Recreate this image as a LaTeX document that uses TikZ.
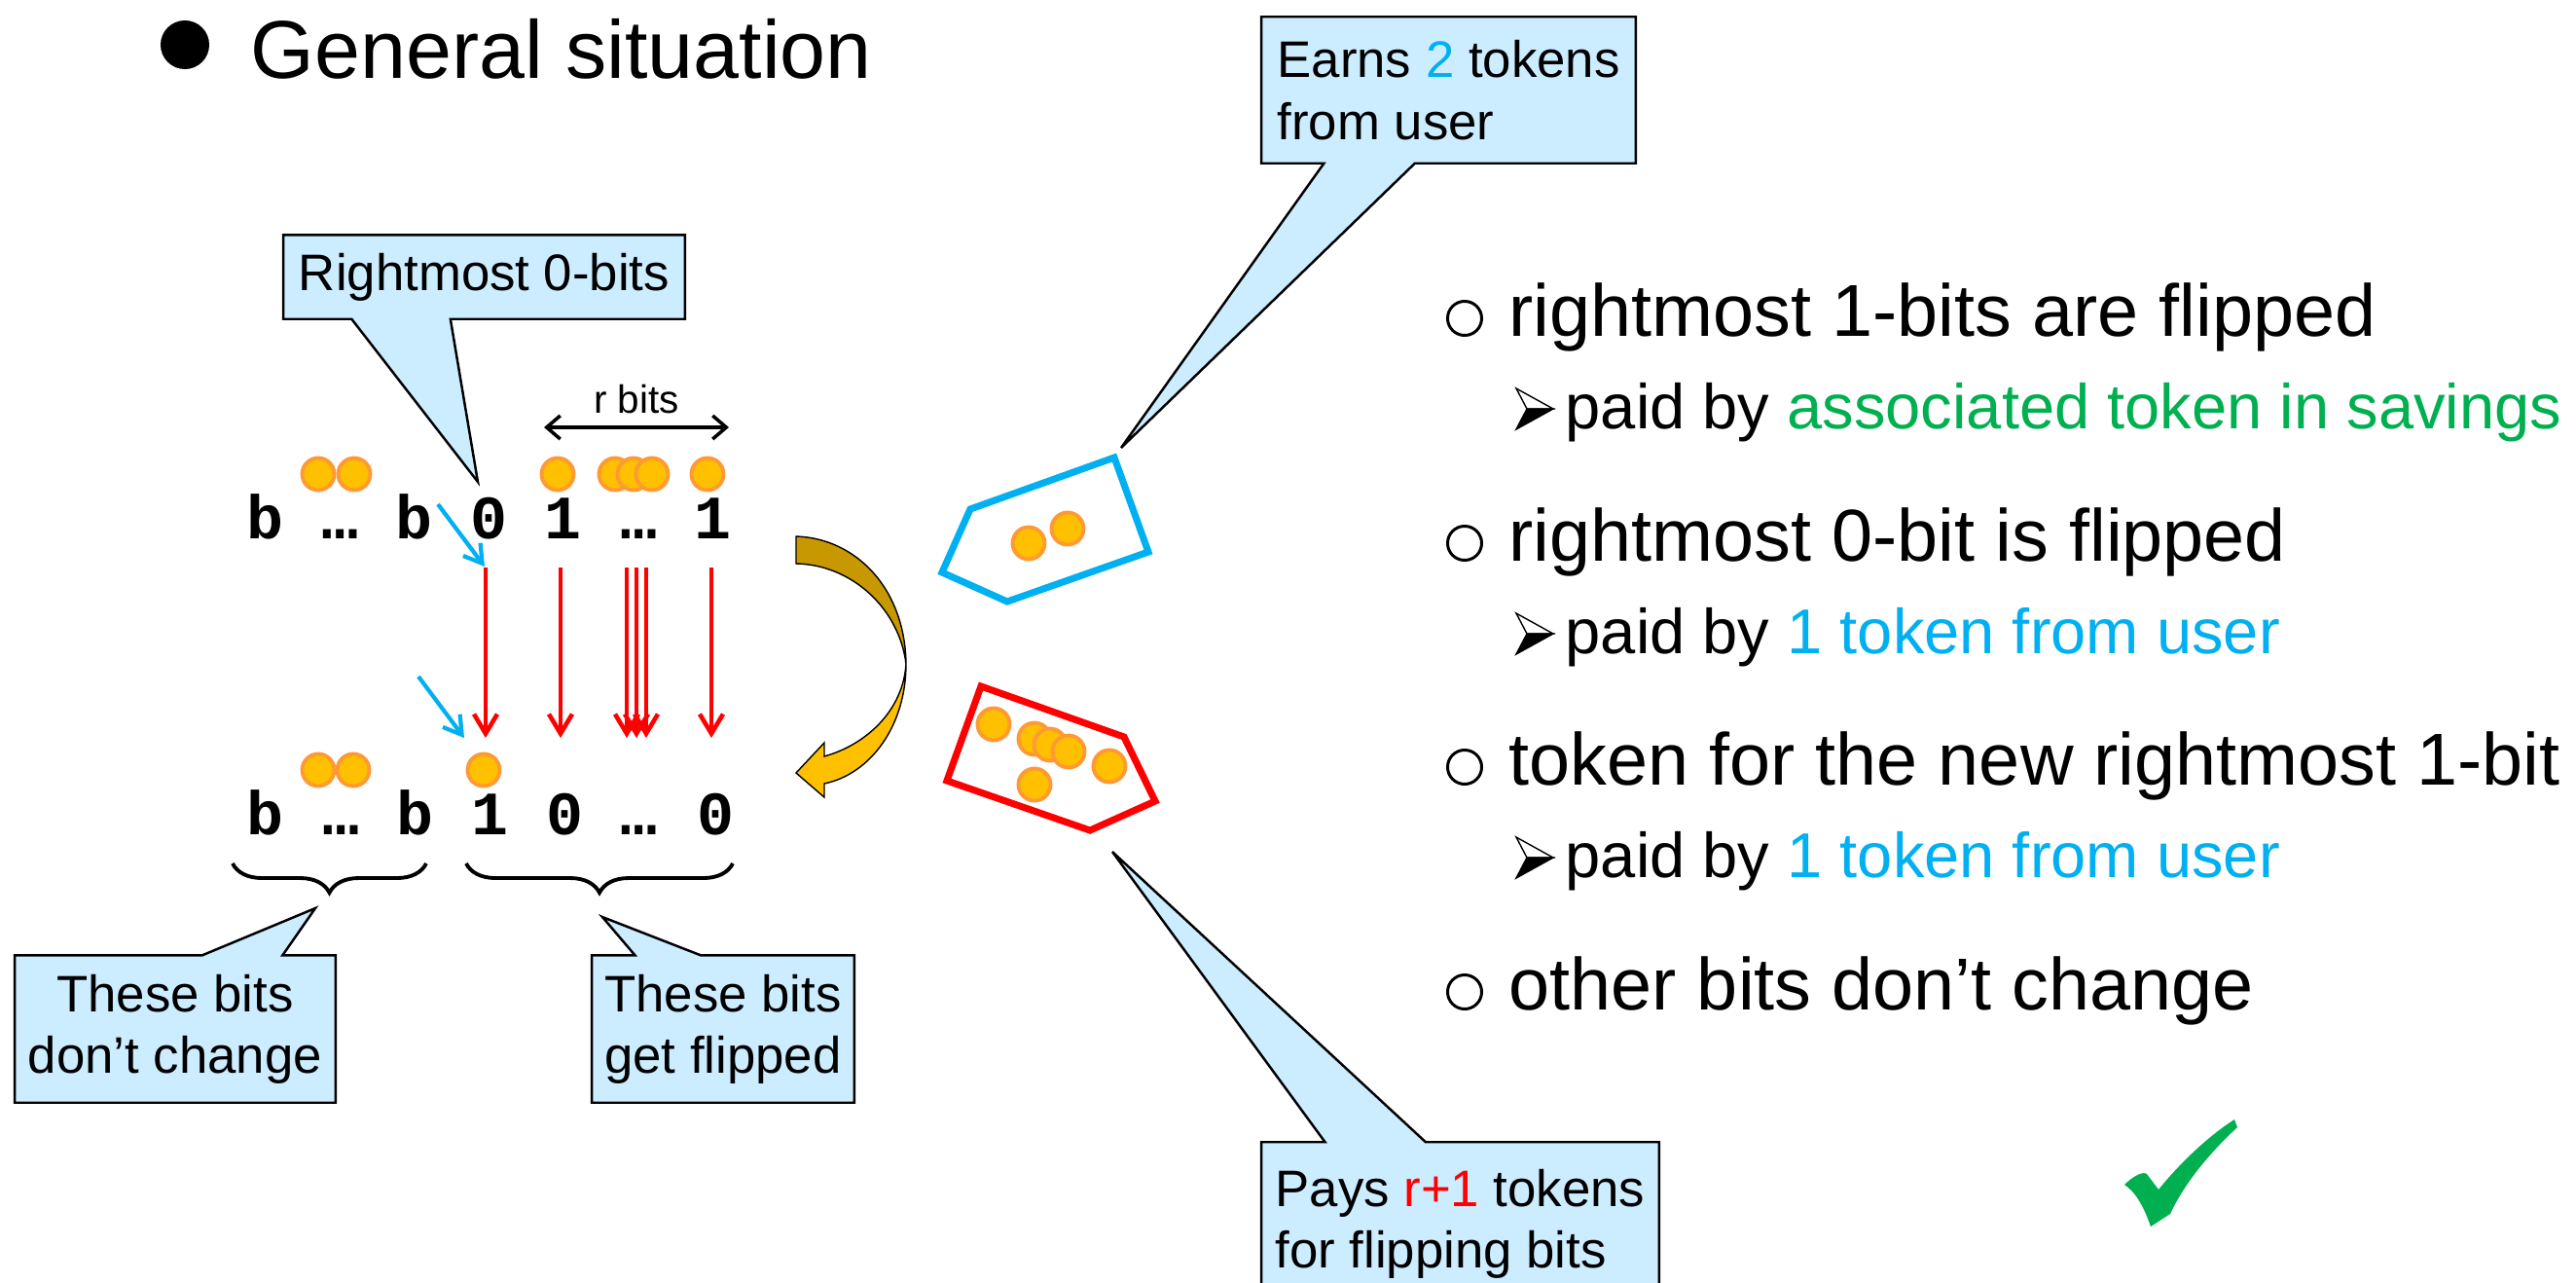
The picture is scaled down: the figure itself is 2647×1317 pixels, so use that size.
\documentclass[tikz,border=0pt]{standalone}
\usepackage{fontspec}
\setmainfont{Liberation Sans}
\newfontfamily\bitfont{Liberation Mono}
\usetikzlibrary{positioning,calc,arrows.meta,decorations.pathreplacing}
\pgfdeclarelayer{background}
\pgfsetlayers{background,main}

\definecolor{callfill}{HTML}{CCECFF}
\definecolor{userblue}{HTML}{00B0F0}
\definecolor{saveGreen}{HTML}{00B050}
\definecolor{coinfill}{HTML}{FFC000}
\definecolor{coinedge}{HTML}{FF9933}
\definecolor{golddark}{HTML}{C89800}

\tikzset{bit/.style={font=\bitfont\bfseries\fontsize{18}{20}\selectfont, anchor=base, inner sep=0}}
\tikzset{coin/.style={circle, fill=coinfill, draw=coinedge, line width=1.1pt, minimum size=0.33cm, inner sep=0}}
\tikzset{calltext/.style={inner sep=0, align=left, font=\fontsize{15}{18}\selectfont}}
\tikzset{callout/.style={draw, line width=0.7pt, fill=callfill, line join=miter}}
\tikzset{flip/.style={draw=red, line width=1.3pt, -{Straight Barb[length=2mm, width=2.4mm]}}}
\tikzset{hint/.style={draw=userblue, line width=1.2pt, -{Straight Barb[length=1.8mm, width=2.2mm]}}}
\tikzset{span/.style={line width=1pt, {Straight Barb[length=1.4mm, width=2.4mm]}-{Straight Barb[length=1.4mm, width=2.4mm]}}}
\tikzset{grp/.style={line width=1.1pt, decorate, decoration={brace, mirror, amplitude=0.3cm}}}
\tikzset{purse/.style={line width=2pt, line join=miter}}
\tikzset{mainpt/.style={anchor=base west, inner sep=0, font=\fontsize{21.5}{26}\selectfont}}
\tikzset{subpt/.style={anchor=base west, inner sep=0, font=\fontsize{18.5}{22}\selectfont}}
\tikzset{ring/.style={circle, draw, line width=0.85pt, minimum size=0.35cm, inner sep=0}}
\tikzset{subarr/.pic={
    \filldraw[fill=white, line width=0.4pt] (-19,-21) -- (19,0) -- (-8,0) -- cycle;
    \filldraw[line width=0.4pt] (-8,0) -- (19,0) -- (-19,21) -- cycle;
}}

\begin{document}
\begin{tikzpicture}[x=0.01cm, y=-0.01cm]
    \useasboundingbox (0,0) rectangle (2647,1317);

    % title
    \node[circle, fill, minimum size=0.5cm, inner sep=0] (tdot) at (190,46) {};
    \node[anchor=base west, inner sep=0, font=\fontsize{24}{28}\selectfont] (title) at (257,80) {General situation};

    % counter before and after
    \foreach \s/\x [count=\i] in {b/272,…/349,b/425,0/502,1/578,…/656,1/732}
        \node[bit] (t\i) at (\x,553) {\s};
    \foreach \s/\x [count=\i] in {b/272,…/350,b/426,1/503,0/580,…/656,0/735}
        \node[bit] (u\i) at (\x,857) {\s};

    \foreach \x [count=\i] in {327,364,573,632,651,670,727}
        \node[coin] (ct\i) at (\x,487) {};
    \foreach \x [count=\i] in {327,363,497}
        \node[coin] (cb\i) at (\x,791) {};

    \coordinate (rl) at (559,439);
    \coordinate (rr) at (749,439);
    \draw[span] (rl) -- node[above, inner sep=0.12cm, font=\fontsize{11.5}{13}\selectfont] (rlab) {r bits} (rr);

    \foreach \x [count=\i] in {499,576,644,654,664,731} {
        \coordinate (fa\i) at (\x,583);
        \coordinate (fb\i) at (\x,758);
        \draw[flip] (fa\i) -- (fb\i);
    }
    \coordinate (h1a) at (450,518);
    \coordinate (h1b) at (498,582);
    \coordinate (h2a) at (430,695);
    \coordinate (h2b) at (477,758);
    \draw[hint] (h1a) -- (h1b);
    \draw[hint] (h2a) -- (h2b);

    \coordinate (gl1) at (239,887);
    \coordinate (gr1) at (438,887);
    \coordinate (gl2) at (479,887);
    \coordinate (gr2) at (753,887);
    \draw[grp] (gl1) -- (gr1);
    \draw[grp] (gl2) -- (gr2);

    % curved arrow
    \filldraw[fill=golddark, line width=0.4pt] (818,551) .. controls (880,553) and (930,605) .. (931,682)
        .. controls (924,625) and (875,580) .. (818,579) -- cycle;
    \filldraw[fill=coinfill, line width=0.4pt] (931,682) .. controls (931,745) and (895,795) .. (847,805)
        -- (847,819) -- (818,794) -- (847,763) -- (847,777)
        .. controls (890,765) and (928,730) .. (931,682) -- cycle;

    % savings
    \draw[purse, draw=userblue] (1145,470) -- (1180,567) -- (1035,618) -- (968,588) -- (997,523) -- cycle;
    \foreach \p [count=\i] in {(1057,558),(1097,543)}
        \node[coin] (cu\i) at \p {};
    \draw[purse, draw=red] (1008,705) -- (1155,757) -- (1187,823) -- (1120,853) -- (973,802) -- cycle;
    \foreach \p [count=\i] in {(1021,744),(1063,759),(1079,765),(1098,772),(1140,787),(1063,806)}
        \node[coin] (cr\i) at \p {};

    % callouts
    \node[calltext, minimum width=4.11cm, minimum height=0.85cm] (rzb) at (497.5,284.5) {Rightmost 0-bits};
    \coordinate (rztip) at (491,495);
    \node[calltext, align=center, minimum width=3.28cm, minimum height=1.5cm] (keepb) at (180,1057) {These bits\\don’t change};
    \coordinate (keeptip) at (324,933);
    \node[calltext, align=center, minimum width=2.68cm, minimum height=1.5cm] (flipb) at (743,1057) {These bits\\get flipped};
    \coordinate (fliptip) at (619,942);
    \node[calltext, minimum width=3.83cm, minimum height=1.49cm] (earnb) at (1488.5,92.5) {Earns \textcolor{userblue}{2} tokens\\from user};
    \coordinate (earntip) at (1152,460);
    \node[calltext, minimum width=4.07cm, minimum height=1.66cm] (payb) at (1500.5,1257) {Pays \textcolor{red}{r+1} tokens\\for flipping bits};
    \coordinate (paytip) at (1143,875);

    \begin{pgfonlayer}{background}
        \draw[callout] (rzb.north west) -- (rzb.north east) -- (rzb.south east)
            -- ($(rzb.south west)!0.416!(rzb.south east)$) -- (rztip)
            -- ($(rzb.south west)!0.17!(rzb.south east)$) -- (rzb.south west) -- cycle;
        \draw[callout] (keepb.north west) -- ($(keepb.north west)!0.585!(keepb.north east)$) -- (keeptip)
            -- ($(keepb.north west)!0.835!(keepb.north east)$) -- (keepb.north east)
            -- (keepb.south east) -- (keepb.south west) -- cycle;
        \draw[callout] (flipb.north west) -- ($(flipb.north west)!0.164!(flipb.north east)$) -- (fliptip)
            -- ($(flipb.north west)!0.414!(flipb.north east)$) -- (flipb.north east)
            -- (flipb.south east) -- (flipb.south west) -- cycle;
        \draw[callout] (earnb.north west) -- (earnb.north east) -- (earnb.south east)
            -- ($(earnb.south west)!0.41!(earnb.south east)$) -- (earntip)
            -- ($(earnb.south west)!0.167!(earnb.south east)$) -- (earnb.south west) -- cycle;
        \draw[callout] (payb.north west) -- ($(payb.north west)!0.16!(payb.north east)$) -- (paytip)
            -- ($(payb.north west)!0.413!(payb.north east)$) -- (payb.north east)
            -- (payb.south east) -- (payb.south west) -- cycle;
    \end{pgfonlayer}

    % cases
    \node[ring] (o1) at (1505,327) {};
    \node[mainpt] (p1) at (1550,345) {rightmost 1-bits are flipped};
    \pic at (1577,420) {subarr};
    \node[subpt] (q1) at (1608,440) {paid by \textcolor{saveGreen}{associated token in savings}};
    \node[ring] (o2) at (1505,558) {};
    \node[mainpt] (p2) at (1550,576) {rightmost 0-bit is flipped};
    \pic at (1577,651) {subarr};
    \node[subpt] (q2) at (1608,671) {paid by \textcolor{userblue}{1 token from user}};
    \node[ring] (o3) at (1505,788) {};
    \node[mainpt] (p3) at (1550,806) {token for the new rightmost 1-bit};
    \pic at (1577,881) {subarr};
    \node[subpt] (q3) at (1608,901) {paid by \textcolor{userblue}{1 token from user}};
    \node[ring] (o4) at (1505,1019) {};
    \node[mainpt] (p4) at (1550,1037) {other bits don’t change};

    % done
    \fill[saveGreen] (2183,1217) .. controls (2192,1208) and (2202,1203) .. (2206,1206) -- (2218,1222)
        .. controls (2240,1195) and (2268,1168) .. (2296,1150) -- (2299,1158)
        .. controls (2270,1185) and (2245,1215) .. (2230,1247) -- (2210,1260)
        .. controls (2203,1240) and (2195,1225) .. (2183,1217) -- cycle;
\end{tikzpicture}
\end{document}
